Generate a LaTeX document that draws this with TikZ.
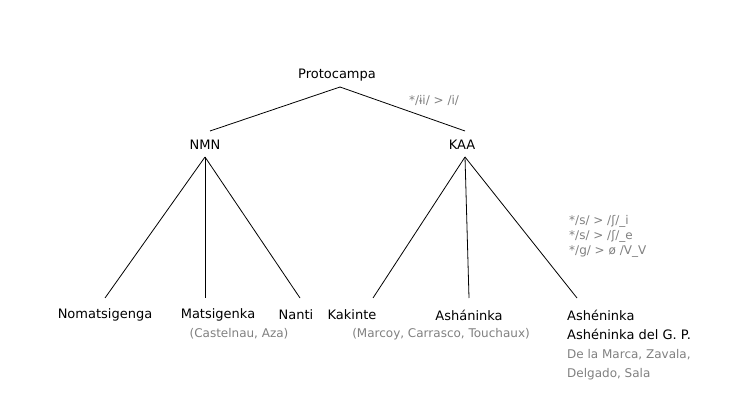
\documentclass[tikz,border=0pt]{standalone}
\usepackage{fontspec}
\setmainfont{DejaVu Sans}
\begin{document}
\begin{tikzpicture}[x=1pt,y=-1pt,
  t/.style={font=\fontsize{13}{16}\selectfont,inner sep=1pt},
  g/.style={font=\fontsize{12}{15}\selectfont,text=gray,inner sep=1pt},
  e/.style={line width=0.8pt}]
\useasboundingbox (0,0) rectangle (746,403);
\node[t] (p) at (337,75) {Protocampa};
\node[t] (nmn) at (205,145) {NMN};
\node[t] (kaa) at (462,145) {KAA};
\node[t] (n1) at (105,315) {Nomatsigenga};
\node[t] (n2) at (218,315) {Matsigenka};
\node[t] (n3) at (296,315) {Nanti};
\node[t] (k1) at (352,315) {Kakinte};
\node[t] (k2) at (469,315) {Asháninka};
\node[t,anchor=west] (k3) at (566,315) {Ashéninka};
\node[t,anchor=west] (k3b) at (566,334) {Ashéninka del G. P.};
\node[g] (c1) at (239,334) {(Castelnau, Aza)};
\node[g] (c2) at (441,334) {(Marcoy, Carrasco, Touchaux)};
\node[g,anchor=west] (c3) at (566,355) {De la Marca, Zavala,};
\node[g,anchor=west] (c4) at (566,374) {Delgado, Sala};
\node[g] (r1) at (434,101) {*/ɨi/ > /i/};
\node[g,anchor=west,align=left] (r2) at (568,236) {*/s/ > /ʃ/\_i\\*/s/ > /ʃ/\_e\\*/g/ > ø /V\_V};
\coordinate (pb) at (340,87);
\coordinate (nt) at (210,131);
\coordinate (kt) at (465,131);
\coordinate (nb) at (205,157);
\coordinate (kb) at (465,157);
\coordinate (a1) at (105,298);
\coordinate (a2) at (205,298);
\coordinate (a3) at (300,298);
\coordinate (b1) at (373,298);
\coordinate (b2) at (469,298);
\coordinate (b3) at (577,298);
\draw[e] (pb) -- (nt);
\draw[e] (pb) -- (kt);
\draw[e] (nb) -- (a1);
\draw[e] (nb) -- (a2);
\draw[e] (nb) -- (a3);
\draw[e] (kb) -- (b1);
\draw[e] (kb) -- (b2);
\draw[e] (kb) -- (b3);
\end{tikzpicture}
\end{document}
